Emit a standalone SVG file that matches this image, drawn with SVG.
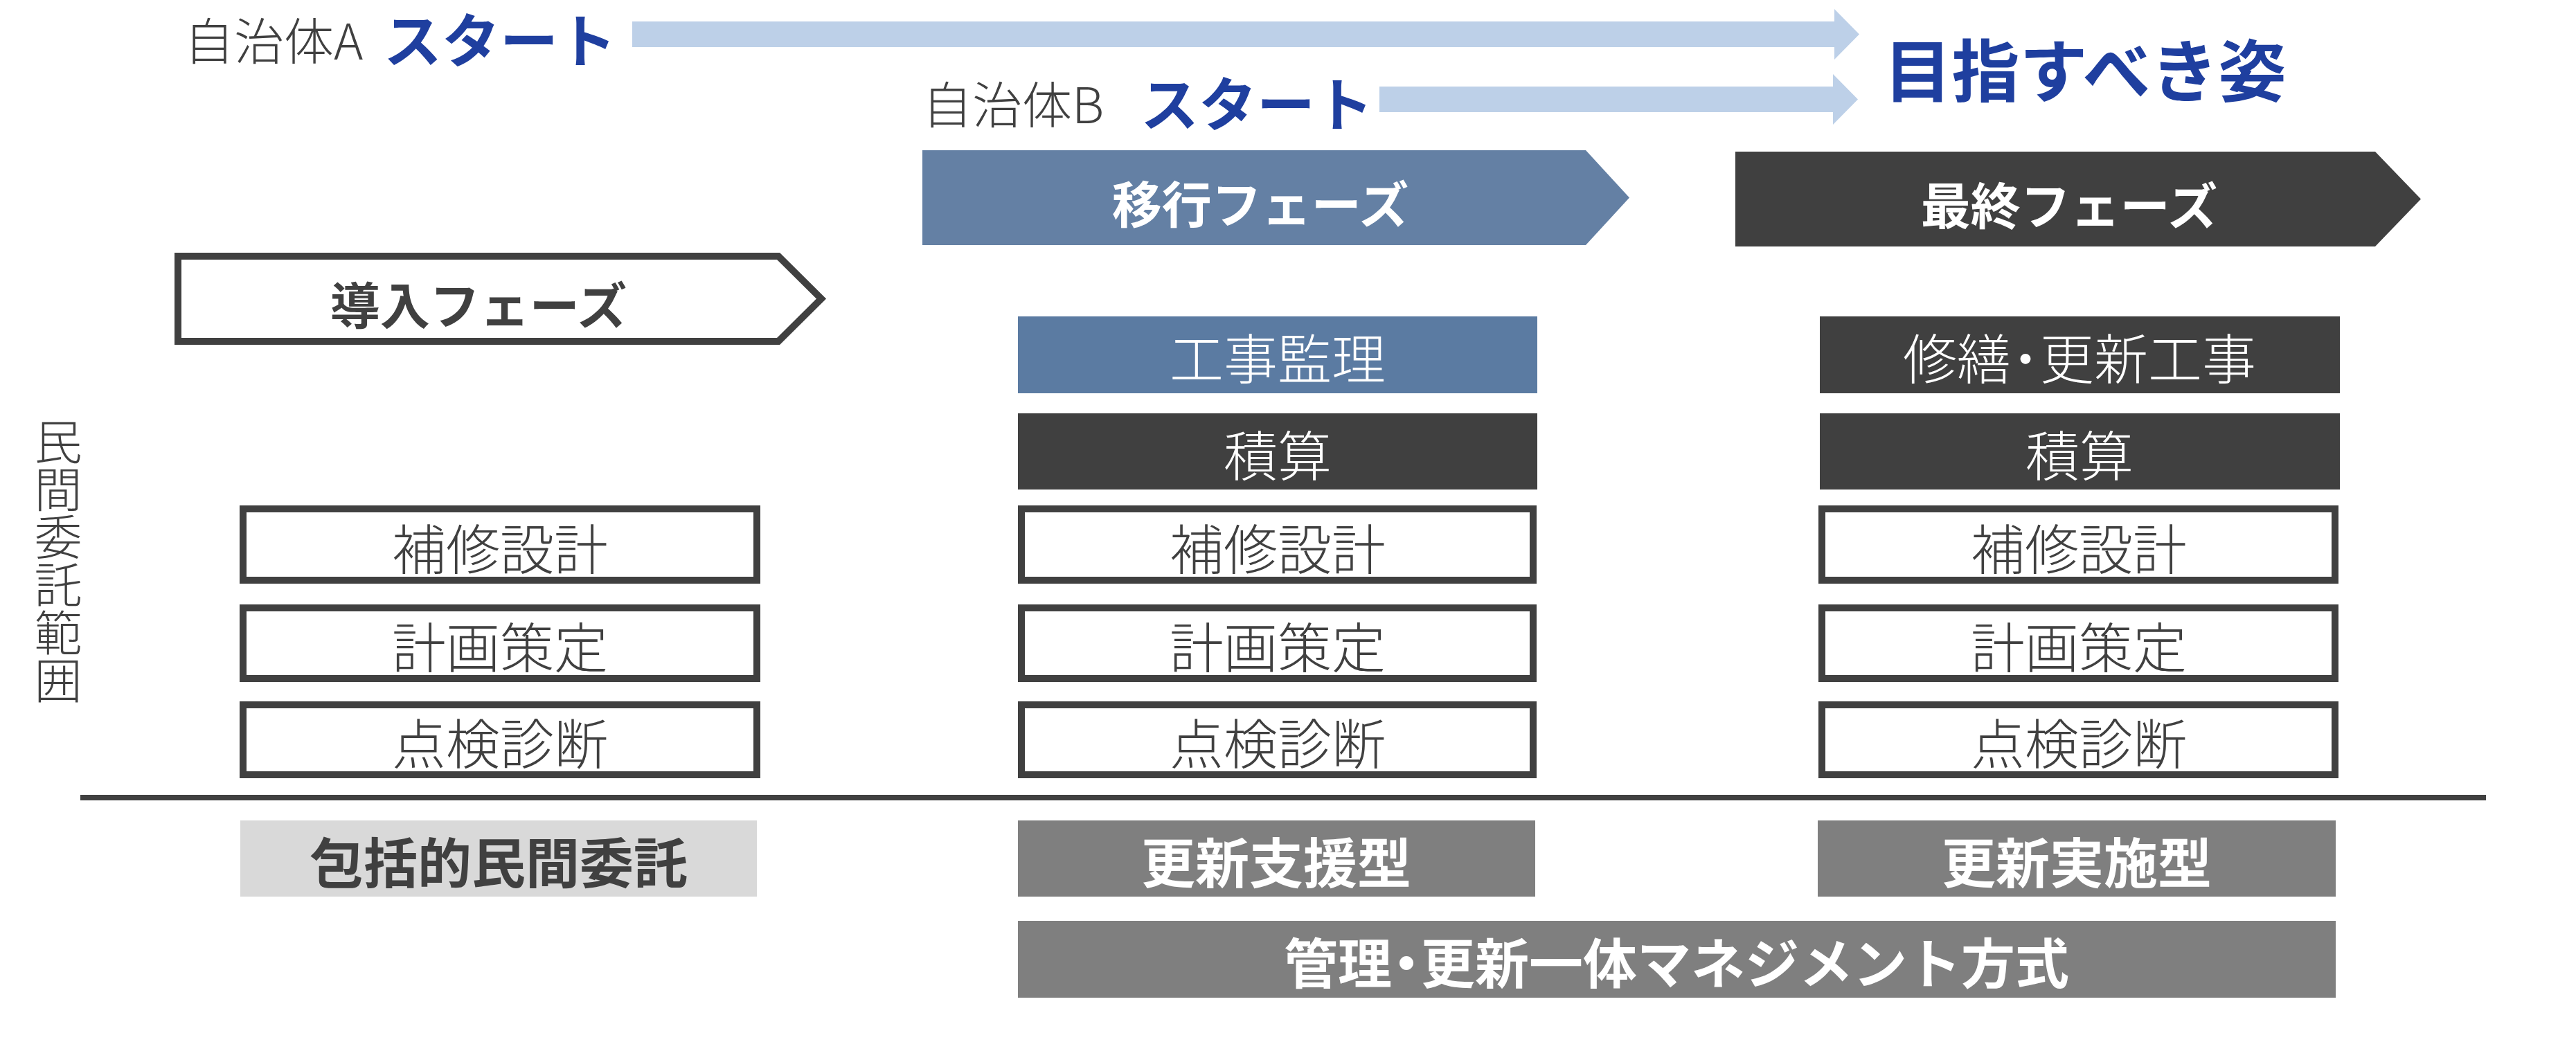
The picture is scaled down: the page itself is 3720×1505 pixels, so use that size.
<svg xmlns="http://www.w3.org/2000/svg" width="3720" height="1505" viewBox="0 0 3720 1505">
<style>
text{font-family:"Noto Sans CJK JP","Noto Sans CJK SC",sans-serif;dominant-baseline:central;}
.lt{font-weight:300;fill:#404040;font-size:72px;}
.start{font-weight:700;fill:#1f3f9f;font-size:84px;text-anchor:middle;}
.goal{font-weight:700;fill:#1f3f9f;font-size:98px;text-anchor:middle;}
.ph{font-weight:700;font-size:72px;text-anchor:middle;}
.bx{font-weight:300;font-size:78px;text-anchor:middle;}
.bb{font-weight:700;font-size:78px;text-anchor:middle;}
.w{fill:#ffffff;}
.d{fill:#404040;}
.ob{fill:#ffffff;stroke:#404040;stroke-width:10;}
.dark{fill:#404040;}
.steel{fill:#5b7ba2;}
.gray{fill:#7f7f7f;}
.lgray{fill:#d9d9d9;}
.arr{fill:#bdd0e8;}
</style>
<rect width="3720" height="1505" fill="#ffffff"/>

<g id="connectors">
<polygon class="arr" points="913,31 2649,31 2649,13 2685,49.5 2649,86 2649,68 913,68"/>
<polygon class="arr" points="1992,125 2647,125 2647,107 2683,143.5 2647,180 2647,162 1992,162"/>
<line x1="116" y1="1152" x2="3590" y2="1152" stroke="#404040" stroke-width="8"/>
</g>

<g id="startA">
<text class="lt" x="266" y="54">自治体A</text>
<text class="start" x="722" y="53">スタート</text>
</g>
<g id="startB">
<text class="lt" x="1332" y="146">自治体B</text>
<text class="start" x="1815" y="145">スタート</text>
</g>
<g id="goal">
<text class="goal" x="3011" y="96">目指すべき姿</text>
</g>

<g id="phase-intro">
<path class="ob" d="M257,370 H1124 L1186,431.5 L1124,493 H257 Z"/>
<text class="ph d" x="691" y="436">導入フェーズ</text>
</g>
<g id="phase-transition">
<path fill="#6480a4" d="M1332,217 H2290 L2353,285.5 L2290,354 H1332 Z"/>
<text class="ph w" x="1820" y="290">移行フェーズ</text>
</g>
<g id="phase-final">
<path class="dark" d="M2506,219 H3430 L3496,287.5 L3430,356 H2506 Z"/>
<text class="ph w" x="2988" y="292">最終フェーズ</text>
</g>

<g id="scope-label">
<text class="lt" x="84" y="603" style="writing-mode:vertical-rl;font-size:69px">民間委託範囲</text>
</g>

<g id="A-hoshu"><rect class="ob" x="351" y="735" width="742" height="103"/><text class="bx d" x="722" y="789">補修設計</text></g>
<g id="A-keikaku"><rect class="ob" x="351" y="878" width="742" height="102"/><text class="bx d" x="722" y="931">計画策定</text></g>
<g id="A-tenken"><rect class="ob" x="351" y="1018" width="742" height="101"/><text class="bx d" x="722" y="1070">点検診断</text></g>

<g id="B-kanri"><rect class="steel" x="1470" y="457" width="750" height="111"/><text class="bx w" x="1845" y="514">工事監理</text></g>
<g id="B-sekisan"><rect class="dark" x="1470" y="597" width="750" height="110"/><text class="bx w" x="1845" y="654">積算</text></g>
<g id="B-hoshu"><rect class="ob" x="1475" y="735" width="739" height="103"/><text class="bx d" x="1845" y="789">補修設計</text></g>
<g id="B-keikaku"><rect class="ob" x="1475" y="878" width="739" height="102"/><text class="bx d" x="1845" y="931">計画策定</text></g>
<g id="B-tenken"><rect class="ob" x="1475" y="1018" width="739" height="101"/><text class="bx d" x="1845" y="1070">点検診断</text></g>

<g id="C-koji"><rect class="dark" x="2628" y="457" width="751" height="111"/><text class="bx w" x="3003" y="514">修繕<tspan dx="-18">・</tspan><tspan dx="-18">更新工事</tspan></text></g>
<g id="C-sekisan"><rect class="dark" x="2628" y="597" width="751" height="110"/><text class="bx w" x="3003" y="654">積算</text></g>
<g id="C-hoshu"><rect class="ob" x="2631" y="735" width="741" height="103"/><text class="bx d" x="3002" y="789">補修設計</text></g>
<g id="C-keikaku"><rect class="ob" x="2631" y="878" width="741" height="102"/><text class="bx d" x="3002" y="931">計画策定</text></g>
<g id="C-tenken"><rect class="ob" x="2631" y="1018" width="741" height="101"/><text class="bx d" x="3002" y="1070">点検診断</text></g>

<g id="type-hokatsu"><rect class="lgray" x="347" y="1185" width="746" height="110"/><text class="bb d" x="720" y="1242">包括的民間委託</text></g>
<g id="type-shien"><rect class="gray" x="1470" y="1185" width="747" height="110"/><text class="bb w" x="1843" y="1242">更新支援型</text></g>
<g id="type-jisshi"><rect class="gray" x="2625" y="1185" width="748" height="110"/><text class="bb w" x="2999" y="1242">更新実施型</text></g>
<g id="type-ittai"><rect class="gray" x="1470" y="1330" width="1903" height="111"/><text class="bb w" x="2421" y="1387">管理<tspan dx="-18">・</tspan><tspan dx="-18">更新一体マネジメント方式</tspan></text></g>
</svg>
